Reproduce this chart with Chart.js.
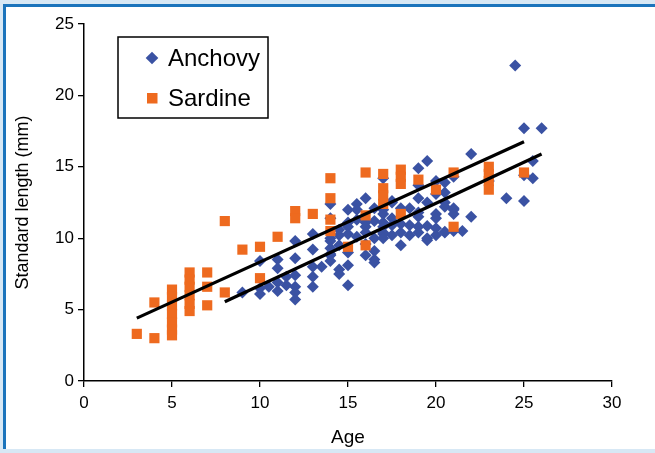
<!DOCTYPE html>
<html>
<head>
<meta charset="utf-8">
<script src="https://cdn.jsdelivr.net/npm/chart.js@4/dist/chart.umd.min.js"></script>
<style>
  html, body { margin: 0; padding: 0; width: 655px; height: 453px; overflow: hidden; background: #d7e8f5; }
  #frame { position: absolute; left: 3px; top: 4px; width: 700px; height: 442px; background: #ffffff;
           border-top: 3px solid #1b74bc; border-left: 3px solid #1b74bc; }
  #wrap { position: absolute; left: 0; top: 0; width: 655px; height: 453px; }
</style>
</head>
<body>
<div id="frame"></div>
<div id="wrap"><canvas id="c" width="655" height="453"></canvas></div>
<script>
// ---- data ----
const seriesNames = ['Anchovy', 'Sardine'];

const anchovyAge = [
  9, 10, 10, 10, 10.5, 11, 11, 11, 11, 11.5, 11.5,
  12, 12, 12, 12, 12, 12, 13, 13, 13, 13, 13, 13.5,
  14, 14, 14, 14, 14, 14, 14, 14, 14.5, 14.5, 14.5, 14.5, 14.5,
  15, 15, 15, 15, 15, 15, 15, 15.5, 15.5, 15.5, 15.5,
  16, 16, 16, 16, 16, 16, 16.5, 16.5, 16.5, 16.5, 16.5, 16.5,
  17, 17, 17, 17, 17, 17, 17, 17, 17.5, 17.5, 17.5, 17.5, 17.5,
  18, 18, 18, 18, 18.5, 18.5, 18.5,
  19, 19, 19, 19, 19, 19, 19, 19.5, 19.5, 19.5, 19.5, 19.5,
  20, 20, 20, 20, 20, 20, 20.5, 20.5, 20.5, 20.5, 20.5, 20.5,
  21, 21, 21, 21, 21, 21.5, 22, 22, 23, 24, 24.5,
  25, 25, 25, 25.5, 25.5, 26
];
const anchovyLength = [
  6.2, 8.4, 6.5, 6.1, 6.6, 8.5, 7.9, 6.9, 6.3, 7.3, 6.7,
  9.8, 8.6, 7.4, 6.6, 6.2, 5.7, 10.3, 9.2, 8.0, 7.3, 6.6, 8.0,
  12.4, 11.4, 10.0, 9.8, 9.3, 8.9, 8.8, 8.4, 10.6, 10.2, 9.5, 7.8, 7.5,
  12.0, 11.1, 10.8, 10.3, 9.0, 8.1, 6.7, 12.4, 12.0, 11.3, 10.1,
  12.8, 11.1, 10.8, 10.4, 9.6, 8.8, 12.1, 11.2, 10.0, 9.1, 8.5, 8.3,
  14.2, 12.0, 11.7, 11.1, 10.8, 10.4, 10.3, 10.0, 12.6, 12.5, 11.4, 10.9, 10.2,
  12.1, 11.0, 10.4, 9.5, 12.1, 10.9, 10.2,
  14.9, 13.7, 12.8, 11.8, 11.5, 10.8, 10.4, 15.4, 12.5, 10.85, 10.0, 9.85,
  14.0, 13.1, 11.7, 11.4, 10.7, 10.2, 13.9, 13.2, 12.5, 12.2, 10.45, 10.4,
  14.3, 12.1, 12.0, 11.7, 10.5, 10.5, 15.9, 11.5, 14.0, 12.8, 22.1,
  17.7, 14.4, 12.6, 15.4, 14.2, 17.7
];

const sardineAge = [
  3, 4, 4, 5, 5, 5, 5, 5, 5, 5, 6, 6, 6, 6, 6, 6, 7, 7, 7, 8, 8, 9, 10, 10, 11,
  12, 12, 13, 14, 14, 14, 14, 15, 16, 16, 16, 17, 17, 17, 17, 18, 18, 18, 18,
  19, 20, 21, 21, 23, 23, 23, 23, 25
];
const sardineLength = [
  3.3, 3.0, 5.5, 6.4, 5.9, 5.3, 4.7, 4.1, 3.6, 3.2, 7.6, 7.1, 6.6, 6.0, 5.4, 4.9, 7.6, 6.6, 5.3, 6.2, 11.2, 9.2, 9.4, 7.2, 10.1,
  11.9, 11.4, 11.7, 14.2, 12.8, 11.3, 10.5, 9.4, 14.6, 11.6, 9.5, 14.5, 13.5, 13.0, 12.4, 14.8, 14.3, 13.8, 11.7,
  14.1, 13.4, 14.6, 10.8, 15.0, 14.5, 14.0, 13.4, 14.6
];

// regression line end points (age, length)
const anchovyTrendAge = [8, 26];
const anchovyTrendLength = [5.55, 15.9];
const sardineTrendAge = [3, 25];
const sardineTrendLength = [4.4, 16.75];

const xTicks = [0, 5, 10, 15, 20, 25, 30];
const yTicks = [0, 5, 10, 15, 20, 25];

// ---- build ----
const zip = (xs, ys) => xs.map((x, i) => ({ x: x, y: ys[i] }));
const BLUE = '#3a52a3';
const ORANGE = '#ee6a1f';
const FONT = '"Liberation Sans", Arial, sans-serif';

const legendPlugin = {
  id: 'boxLegend',
  afterDraw(chart) {
    const ctx = chart.ctx;
    ctx.save();
    ctx.strokeStyle = '#000';
    ctx.lineWidth = 1.5;
    ctx.fillStyle = '#fff';
    ctx.fillRect(118, 37, 150, 81);
    ctx.strokeRect(118, 37, 150, 81);
    // anchovy marker (diamond)
    const r = 6.3;
    ctx.fillStyle = BLUE;
    ctx.beginPath();
    ctx.moveTo(152 - r, 58); ctx.lineTo(152, 58 - r); ctx.lineTo(152 + r, 58); ctx.lineTo(152, 58 + r);
    ctx.closePath(); ctx.fill();
    // sardine marker (square)
    ctx.fillStyle = ORANGE;
    ctx.fillRect(147, 93, 10.5, 10.5);
    ctx.fillStyle = '#000';
    ctx.font = '24px ' + FONT;
    ctx.textBaseline = 'middle';
    ctx.textAlign = 'left';
    ctx.fillText(chart.data.datasets[2].label, 168, 59);
    ctx.fillText(chart.data.datasets[3].label, 168, 99);
    ctx.restore();
  }
};

new Chart(document.getElementById('c'), {
  type: 'scatter',
  data: {
    datasets: [
      { type: 'line', label: 'Sardine trend', data: zip(sardineTrendAge, sardineTrendLength),
        borderColor: '#000', borderWidth: 3.2, pointRadius: 0, fill: false, order: 0 },
      { type: 'line', label: 'Anchovy trend', data: zip(anchovyTrendAge, anchovyTrendLength),
        borderColor: '#000', borderWidth: 3.2, pointRadius: 0, fill: false, order: 1 },
      { label: seriesNames[0], data: zip(anchovyAge, anchovyLength), pointStyle: 'rectRot',
        pointRadius: 6, pointHoverRadius: 6, backgroundColor: BLUE, borderColor: BLUE, borderWidth: 0, order: 3 },
      { label: seriesNames[1], data: zip(sardineAge, sardineLength), pointStyle: 'rect',
        pointRadius: 7.2, pointHoverRadius: 7.2, backgroundColor: ORANGE, borderColor: ORANGE, borderWidth: 0, order: 2 }
    ]
  },
  options: {
    responsive: false,
    animation: false,
    events: [],
    layout: { padding: { left: 8, top: 24, right: 43, bottom: 0 } },
    plugins: { legend: { display: false }, tooltip: { enabled: false } },
    scales: {
      x: {
        type: 'linear', min: 0, max: 30,
        afterBuildTicks: s => { s.ticks = xTicks.map(v => ({ value: v })); },
        afterFit: s => { s.height = 72; },
        ticks: { color: '#000', font: { family: FONT, size: 17 }, padding: 6 },
        grid: { display: true, drawOnChartArea: false, drawTicks: true, tickLength: 6, color: '#000', lineWidth: 1.3 },
        border: { color: '#000', width: 1.5 },
        title: { display: true, text: 'Age', color: '#000', font: { family: FONT, size: 19 }, padding: { top: 4, bottom: 4 } }
      },
      y: {
        type: 'linear', min: 0, max: 25,
        afterBuildTicks: s => { s.ticks = yTicks.map(v => ({ value: v })); },
        afterFit: s => { s.width = 76; },
        ticks: { color: '#000', font: { family: FONT, size: 17 }, padding: 4 },
        grid: { display: true, drawOnChartArea: false, drawTicks: true, tickLength: 6, color: '#000', lineWidth: 1.3 },
        border: { color: '#000', width: 1.5 },
        title: { display: true, text: 'Standard length (mm)', color: '#000', font: { family: FONT, size: 18 }, padding: { top: 4, bottom: 4 } }
      }
    }
  },
  plugins: [legendPlugin]
});
</script>
</body>
</html>
